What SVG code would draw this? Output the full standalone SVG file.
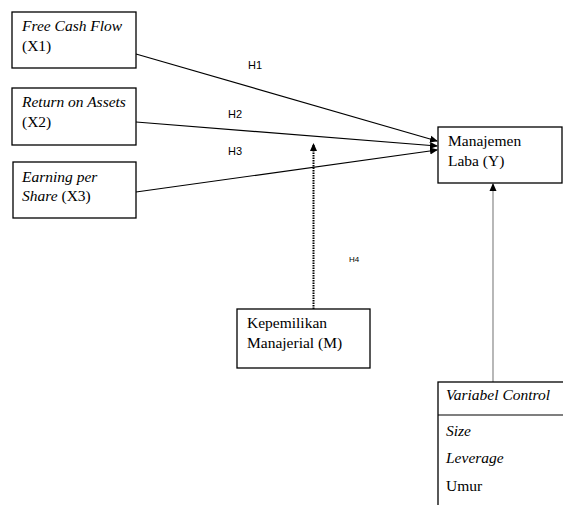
<svg xmlns="http://www.w3.org/2000/svg" width="563" height="505" viewBox="0 0 563 505">
<defs>
<style>
.box{fill:#fff;stroke:#000;stroke-width:1.3}
.t{font-family:"Liberation Serif","Times New Roman",serif;font-size:15.5px;fill:#000}
.i{font-style:italic}
.h{font-family:"Liberation Sans",Arial,sans-serif;font-size:11px;fill:#000}
.ln{stroke:#000;stroke-width:1.2;fill:none}
</style>
<marker id="ah" markerWidth="8" markerHeight="8" refX="7" refY="4" orient="auto" markerUnits="userSpaceOnUse">
<path d="M0,0.5 L8,4 L0,7.5 Z" fill="#000"/>
</marker>
</defs>
<rect width="563" height="505" fill="#fff"/>
<g id="connectors">
<line class="ln" x1="136" y1="54" x2="437" y2="141" marker-end="url(#ah)"/>
<line class="ln" x1="136" y1="122" x2="437" y2="146" marker-end="url(#ah)"/>
<line class="ln" x1="136" y1="192" x2="437" y2="150" marker-end="url(#ah)"/>
<line x1="313.5" y1="309" x2="313.5" y2="144" stroke="#000" stroke-width="2" stroke-dasharray="1.5,1" marker-end="url(#ah)"/>
<line x1="493" y1="382" x2="493" y2="184" stroke="#888" stroke-width="1.2" marker-end="url(#ah)"/>
<text class="h" x="248" y="69">H1</text>
<text class="h" x="228" y="118">H2</text>
<text class="h" x="228" y="155">H3</text>
<text class="h" x="349" y="262" style="font-size:8px">H4</text>
</g>
<g id="x1">
<rect class="box" x="12" y="12" width="124" height="56"/>
<text class="t i" x="22" y="31">Free Cash Flow</text>
<text class="t" x="22" y="51">(X1)</text>
</g>
<g id="x2">
<rect class="box" x="12" y="88" width="124" height="57"/>
<text class="t i" x="22" y="107">Return on Assets</text>
<text class="t" x="22" y="127">(X2)</text>
</g>
<g id="x3">
<rect class="box" x="13" y="162" width="123" height="56"/>
<text class="t i" x="22" y="182">Earning per</text>
<text class="t" x="22" y="201"><tspan class="i">Share</tspan> (X3)</text>
</g>
<g id="y">
<rect class="box" x="438" y="127" width="124" height="56"/>
<text class="t" x="448" y="146">Manajemen</text>
<text class="t" x="448" y="166">Laba (Y)</text>
</g>
<g id="m">
<rect class="box" x="237" y="309" width="133" height="59"/>
<text class="t" x="247" y="328">Kepemilikan</text>
<text class="t" x="247" y="348">Manajerial (M)</text>
</g>
<g id="control">
<rect class="box" x="438" y="382" width="130" height="130"/>
<line class="ln" x1="438" y1="415" x2="563" y2="415"/>
<text class="t i" x="446" y="400">Variabel Control</text>
<text class="t i" x="446" y="436">Size</text>
<text class="t i" x="446" y="463">Leverage</text>
<text class="t" x="446" y="491">Umur</text>
</g>
</svg>
